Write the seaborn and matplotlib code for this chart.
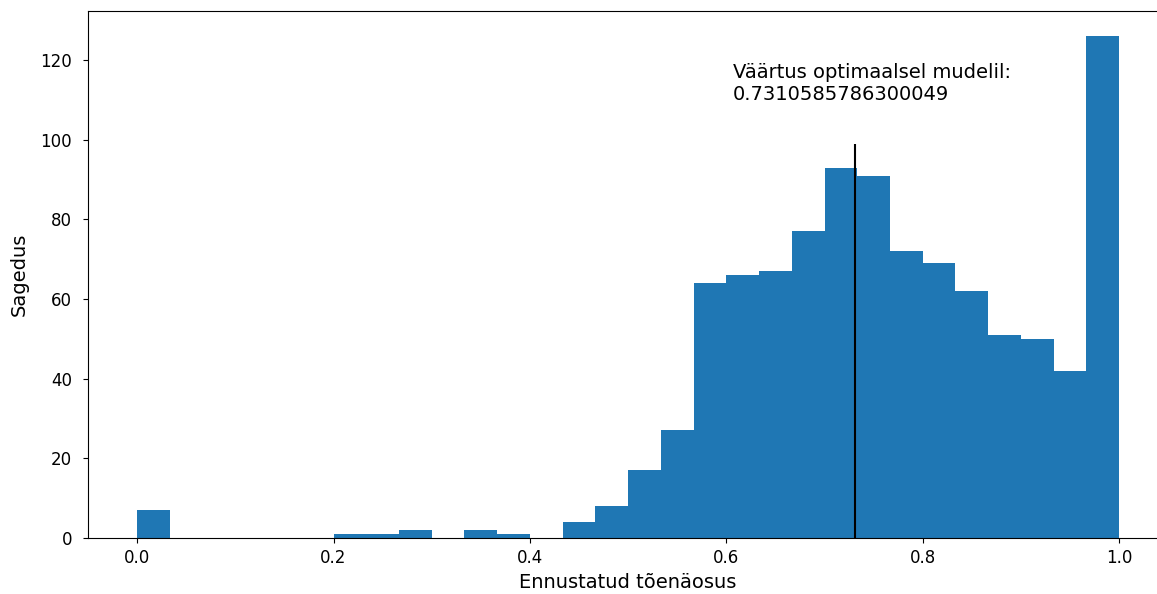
import numpy as np
import pandas as pd
import matplotlib
matplotlib.use("Agg")
import matplotlib.pyplot as plt
import seaborn as sns

# Histogram of predicted probabilities: 30 equal bins on [0, 1]
n_bins = 30
bin_range = (0.0, 1.0)
bin_counts = [7, 0, 0, 0, 0, 0, 1, 1, 2, 0,
              2, 1, 0, 4, 8, 17, 27, 64, 66, 67,
              77, 93, 91, 72, 69, 62, 51, 50, 42, 126]
optimal_value = 0.7310585786300049
annotation = "Väärtus optimaalsel mudelil:\n" + str(optimal_value)
x_label = "Ennustatud tõenäosus"
y_label = "Sagedus"

bin_edges = np.linspace(bin_range[0], bin_range[1], n_bins + 1)
bin_centers = (bin_edges[:-1] + bin_edges[1:]) / 2
df = pd.DataFrame({"prob": bin_centers, "count": bin_counts})

plt.rcParams["font.family"] = ["DejaVu Sans"]
plt.rcParams["font.size"] = 14

fig = plt.figure(figsize=(11.57, 5.94), dpi=100)
ax = fig.add_axes([88 / 1157, 1 - 538 / 594, 1080.2 / 1157, 527 / 594])

sns.histplot(data=df, x="prob", weights="count", bins=n_bins,
             binrange=bin_range, color="#1f77b4", alpha=1.0,
             linewidth=0, ax=ax)

ax.vlines(optimal_value, 0, 99, color="black", linewidth=1.5)
ax.text(0.607, 110, annotation, fontsize=14)

ax.set_xlim(-0.05, 1.05)
ax.set_ylim(0, 132.3)
ax.set_xticks([0.0, 0.2, 0.4, 0.6, 0.8, 1.0])
ax.set_yticks([0, 20, 40, 60, 80, 100, 120])
ax.tick_params(axis="x", labelsize=12, pad=4.7)
ax.tick_params(axis="y", labelsize=12, pad=8)
ax.set_xlabel(x_label, fontsize=14, labelpad=4)
ax.set_ylabel(y_label, fontsize=14, labelpad=8)

fig.savefig("out.png", dpi=100)
